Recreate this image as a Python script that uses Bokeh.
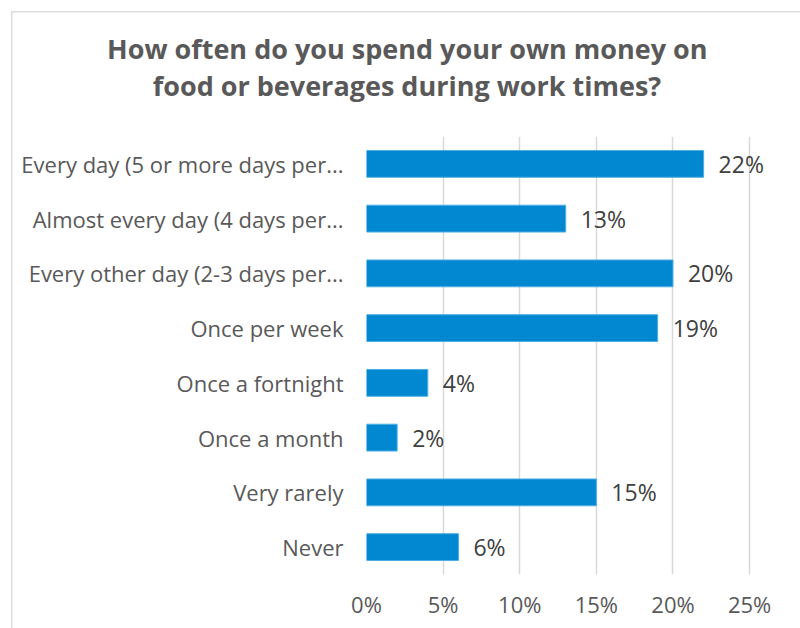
import glob
from bokeh.plotting import figure
from bokeh.models import ColumnDataSource, LabelSet, Title, FixedTicker, FactorRange, Range1d
from bokeh.core.properties import value
from bokeh.embed import file_html
from bokeh.resources import INLINE

categories = [
    "Every day (5 or more days per...",
    "Almost every day (4 days per...",
    "Every other day (2-3 days per...",
    "Once per week",
    "Once a fortnight",
    "Once a month",
    "Very rarely",
    "Never",
]
values = [22, 13, 20, 19, 4, 2, 15, 6]
value_labels = ["22%", "13%", "20%", "19%", "4%", "2%", "15%", "6%"]
tick_values = [0, 5, 10, 15, 20, 25]
tick_labels = ["0%", "5%", "10%", "15%", "20%", "25%"]
title_lines = ["How often do you spend your own money on", "food or beverages during work times?"]

FONT = "Open Sans"
TITLE_SIZE = 27
W, H = 800, 628
FRAME_LEFT = 366
TITLE_CENTER = 406


def text_width(text, size):
    try:
        from PIL import ImageFont
        paths = [p for p in glob.glob("/usr/share/fonts/**/*.ttf", recursive=True)
                 if "OpenSans" in p.replace(" ", "") and "Bold" in p and "Italic" not in p
                 and "Semi" not in p and "Extra" not in p]
        if paths:
            f = ImageFont.truetype(sorted(paths)[0], size)
            return f.getlength(text)
    except Exception:
        pass
    return len(text) * size * 0.56


def make_title(text, standoff, fallback_standoff):
    w = text_width(text, TITLE_SIZE)
    kw = dict(text=text, align="left", offset=TITLE_CENTER - w / 2 - FRAME_LEFT,
              text_font=FONT, text_font_style="bold",
              text_font_size=f"{TITLE_SIZE}px", text_color="#595959")
    try:
        return Title(standoff=standoff, **kw)
    except Exception:
        return Title(standoff=fallback_standoff, **kw)


source = ColumnDataSource(dict(cat=categories, val=values, lab=value_labels))

p = figure(
    width=W, height=H,
    y_range=FactorRange(factors=list(reversed(categories)), range_padding=0),
    x_range=Range1d(0, 27.8),
    output_backend="svg", toolbar_location=None, tools="",
    min_border_left=FRAME_LEFT, min_border_right=8, min_border_top=136, min_border_bottom=54,
)
p.outline_line_color = None
p.background_fill_color = None
p.border_fill_color = None
p.styles = {"box-shadow": "inset 11px 11px 0 0 #FFFFFF, inset 12.5px 12.5px 0 0 #DDDDDD"}

p.hbar(y="cat", right="val", left=0, height=0.49, source=source,
       fill_color="#0288D1", line_color="#4FAEE3", line_width=1)

labels = LabelSet(x="val", y="cat", text="lab", source=source, x_offset=15,
                  text_baseline="middle", text_font=value(FONT), text_font_size="23px",
                  text_color="#404040")
p.add_layout(labels)

p.ygrid.grid_line_color = None
p.xgrid.grid_line_color = "#D9D9D9"
p.xgrid.grid_line_width = 1.5
p.xaxis.ticker = FixedTicker(ticks=tick_values)
p.xaxis.major_label_overrides = {v: l for v, l in zip(tick_values, tick_labels)}

for ax in (p.xaxis, p.yaxis):
    ax.axis_line_color = None
    ax.major_tick_line_color = None
    ax.minor_tick_line_color = None
    ax.major_label_text_font = FONT
    ax.major_label_text_font_size = "22px"
    ax.major_label_text_color = "#595959"
p.xaxis.major_label_standoff = 8
p.yaxis.major_label_standoff = 17

# spacer between frame and title, then the two title lines (added inner to outer)
p.add_layout(Title(text=" ", text_font_size="2px", standoff=29), "above")
p.add_layout(make_title(title_lines[1], 0, 0), "above")
p.add_layout(make_title(title_lines[0], -5, 0), "above")

open("out.html", "w").write(file_html(p, INLINE))
